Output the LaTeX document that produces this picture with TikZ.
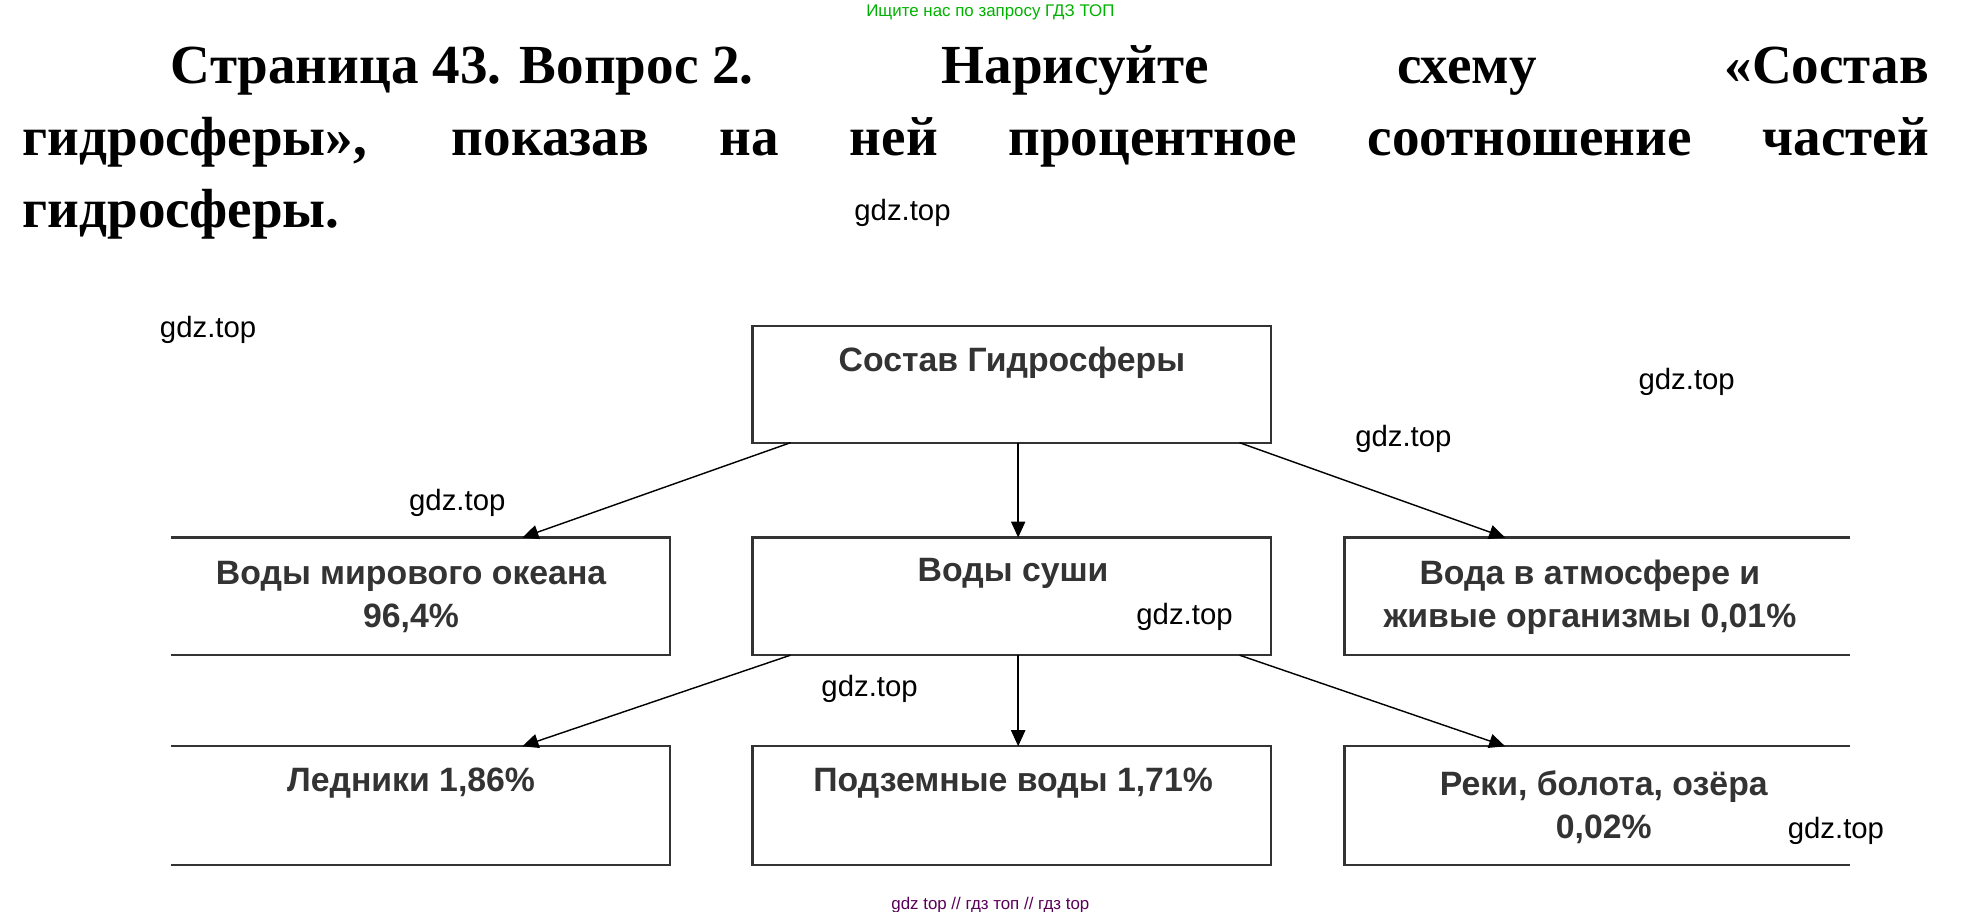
\documentclass[tikz,border=0pt]{standalone}
\usepackage{fontspec}
\setmainfont{Liberation Serif}
\newfontfamily\arialf{Liberation Sans}
\usetikzlibrary{arrows.meta}
\begin{document}
\begin{tikzpicture}[x=0.05cm,y=-0.05cm,
  bx/.style={draw=black!80,line width=2.5pt},
  lbl/.style={font=\arialf\bfseries\fontsize{38}{48}\selectfont,text=black!80,align=center},
  wm/.style={font=\arialf\fontsize{33}{40}\selectfont,anchor=west},
  arr/.style={line width=1.6pt,-{Triangle[length=18pt,width=16pt]}}]
\useasboundingbox[fill=white] (0,0) rectangle (1552,721);
\node[anchor=north,font=\arialf\fontsize{19}{22}\selectfont,text=green!70!black] (h) at (783,1) {Ищите нас по запросу ГДЗ ТОП};
\node[anchor=north west,inner sep=0pt] (t) at (18,36) {\parbox{1507\dimexpr0.05cm\relax}{\fontsize{62}{81}\selectfont\bfseries\parindent=117\dimexpr0.05cm\relax\indent \mbox{Страница 43. Вопрос 2.} Нарисуйте схему «Состав\linebreak гидросферы», показав на ней процентное соотношение частей\linebreak гидросферы.}};
% boxes
\draw[bx] (595,258) rectangle (1005,350);
\node[lbl] (top) at (800,287) {Состав Гидросферы};
\draw[bx] (135,425) -- (530,425) -- (530,518) -- (135,518);
\draw[bx] (595,425) rectangle (1005,518);
\draw[bx] (1463,425) -- (1063,425) -- (1063,518) -- (1463,518);
\draw[bx] (135,590) -- (530,590) -- (530,684) -- (135,684);
\draw[bx] (595,590) rectangle (1005,684);
\draw[bx] (1463,590) -- (1063,590) -- (1063,684) -- (1463,684);
\node[lbl] (a) at (325,472) {Воды мирового океана\\96,4\%};
\node[lbl] (b) at (801,453) {Воды суши};
\node[lbl] (c) at (1257,472) {Вода в атмосфере и\\живые организмы 0,01\%};
\node[lbl] (d) at (325,619) {Ледники 1,86\%};
\node[lbl] (e) at (801,619) {Подземные воды 1,71\%};
\node[lbl] (f) at (1268,638) {Реки, болота, озёра\\0,02\%};
\coordinate (s1) at (625,350); \coordinate (s2) at (805,350); \coordinate (s3) at (980,350);
\coordinate (e1) at (413,425); \coordinate (e2) at (805,425); \coordinate (e3) at (1190,425);
\coordinate (r1) at (625,518); \coordinate (r2) at (805,518); \coordinate (r3) at (980,518);
\coordinate (g1) at (413,590); \coordinate (g2) at (805,590); \coordinate (g3) at (1190,590);
\draw[arr] (s1) -- (e1); \draw[arr] (s2) -- (e2); \draw[arr] (s3) -- (e3);
\draw[arr] (r1) -- (g1); \draw[arr] (r2) -- (g2); \draw[arr] (r3) -- (g3);
\node[wm] (w1) at (673,168) {gdz.top};
\node[wm] (w2) at (124,261) {gdz.top};
\node[wm] (w3) at (1293,302) {gdz.top};
\node[wm] (w4) at (1069,347) {gdz.top};
\node[wm] (w5) at (321,398) {gdz.top};
\node[wm] (w6) at (896,488) {gdz.top};
\node[wm] (w7) at (647,545) {gdz.top};
\node[wm] (w8) at (1411,657) {gdz.top};
\node[font=\arialf\fontsize{19}{22}\selectfont,text=violet!70!black] (ft) at (783,716) {gdz top // гдз топ // гдз top};
\end{tikzpicture}
\end{document}
